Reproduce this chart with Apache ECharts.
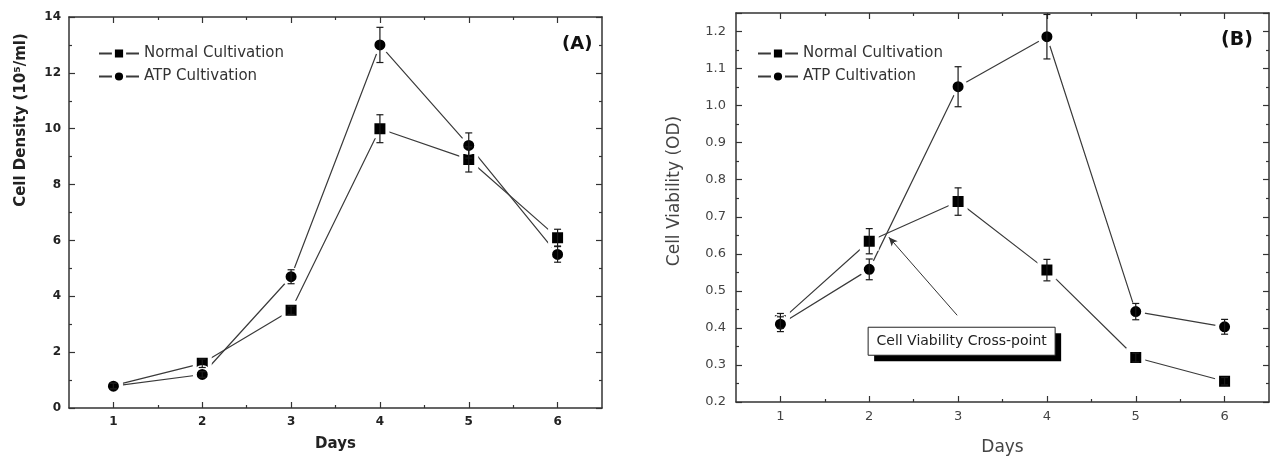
<!DOCTYPE html>
<html>
<head>
<meta charset="utf-8">
<script src="https://cdn.jsdelivr.net/npm/echarts@6/dist/echarts.min.js"></script>
<style>
html,body{margin:0;padding:0;background:#fff;}
#chart{width:1285px;height:461px;}
</style>
</head>
<body>
<div id="chart"></div>
<script>
// ---- data ----
const days = [1, 2, 3, 4, 5, 6];
const minorDays = [1.5, 2.5, 3.5, 4.5, 5.5];
const seriesNames = ['Normal Cultivation', 'ATP Cultivation'];

const densityNormal = [0.8, 1.6, 3.5, 10.0, 8.9, 6.1];
const densityNormalErr = [0.1, 0.15, 0.15, 0.5, 0.45, 0.3];
const densityATP = [0.78, 1.2, 4.7, 13.0, 9.4, 5.5];
const densityATPErr = [0.1, 0.1, 0.25, 0.63, 0.45, 0.28];

const viabilityNormal = [0.419, 0.634, 0.741, 0.556, 0.32, 0.256];
const viabilityNormalErr = [0.02, 0.034, 0.037, 0.029, 0.012, 0.01];
const viabilityATP = [0.41, 0.558, 1.051, 1.186, 0.444, 0.403];
const viabilityATPErr = [0.02, 0.028, 0.054, 0.06, 0.022, 0.02];

const annotationText = 'Cell Viability Cross-point';
const arrowTip = [2.22, 0.645];
const arrowTail = [2.99, 0.434];
const boxCenter = [3.04, 0.364];

// ---- helpers ----
const FONT = 'DejaVu Sans';
const AX = '#333';

function xAxesFor(gridIndex, label) {
  const base = {type: 'value', gridIndex, min: 0.5, max: 6.5, splitLine: {show: false}};
  return [
    Object.assign({}, base, {
      position: 'bottom',
      axisLine: {show: true, onZero: false, lineStyle: {color: AX, width: 1.5}},
      axisTick: {show: true, inside: true, length: 6, customValues: days, lineStyle: {color: AX, width: 1.2}},
      axisLabel: Object.assign({show: true, customValues: days, margin: 8, fontFamily: FONT}, label.tick),
      name: 'Days', nameLocation: 'middle', nameGap: label.nameGap,
      nameTextStyle: Object.assign({fontFamily: FONT}, label.name)
    }),
    Object.assign({}, base, {
      position: 'bottom',
      axisLine: {show: false, onZero: false},
      axisTick: {show: true, inside: true, length: 3, customValues: minorDays, lineStyle: {color: AX, width: 1.2}},
      axisLabel: {show: false}
    }),
    Object.assign({}, base, {
      position: 'top',
      axisLine: {show: true, onZero: false, lineStyle: {color: AX, width: 1.5}},
      axisTick: {show: true, inside: true, length: 6, customValues: days, lineStyle: {color: AX, width: 1.2}},
      axisLabel: {show: false}
    }),
    Object.assign({}, base, {
      position: 'top',
      axisLine: {show: false, onZero: false},
      axisTick: {show: true, inside: true, length: 3, customValues: minorDays, lineStyle: {color: AX, width: 1.2}},
      axisLabel: {show: false}
    })
  ];
}

function yAxesFor(gridIndex, min, max, interval, label) {
  const base = {
    type: 'value', gridIndex, min, max, interval,
    splitLine: {show: false},
    axisLine: {show: true, onZero: false, lineStyle: {color: AX, width: 1.5}},
    axisTick: {show: true, inside: true, length: 6, lineStyle: {color: AX, width: 1.2}},
    minorTick: {show: true, splitNumber: 2, length: 3, lineStyle: {color: AX, width: 1.2}}
  };
  return [
    Object.assign({}, base, {
      position: 'left',
      axisLabel: Object.assign({show: true, margin: label.margin, fontFamily: FONT, showMaxLabel: label.showMax,
        formatter: label.formatter}, label.tick)
    }),
    Object.assign({}, base, {position: 'right', axisLabel: {show: false}})
  ];
}

function errSeries(name, xIdx, yIdx, vals, errs) {
  return {
    type: 'custom', name, xAxisIndex: xIdx, yAxisIndex: yIdx, z: 5, silent: true,
    encode: {x: 0, y: [1, 2]},
    data: days.map((d, i) => [d, vals[i] - errs[i], vals[i] + errs[i]]),
    renderItem(params, api) {
      const x = api.value(0);
      const lo = api.coord([x, api.value(1)]);
      const hi = api.coord([x, api.value(2)]);
      const w = 3.5;
      const st = {stroke: '#1a1a1a', lineWidth: 1.2};
      return {type: 'group', children: [
        {type: 'line', shape: {x1: lo[0], y1: lo[1], x2: hi[0], y2: hi[1]}, style: st},
        {type: 'line', shape: {x1: lo[0] - w, y1: lo[1], x2: lo[0] + w, y2: lo[1]}, style: st},
        {type: 'line', shape: {x1: hi[0] - w, y1: hi[1], x2: hi[0] + w, y2: hi[1]}, style: st}
      ]};
    }
  };
}

function lineSeries(name, xIdx, yIdx, vals, symbol, size, extra) {
  return Object.assign({
    type: 'line', name, xAxisIndex: xIdx, yAxisIndex: yIdx, z: 3,
    data: days.map((d, i) => [d, vals[i]]),
    symbol, symbolSize: size, showSymbol: true,
    lineStyle: {color: '#3a3a3a', width: 1.2},
    itemStyle: {color: '#000', borderColor: '#fff', borderWidth: 4},
    emphasis: {disabled: true}
  }, extra || {});
}

const chart = echarts.init(document.getElementById('chart'), null, {renderer: 'canvas'});

const leftTick = {fontSize: 12, fontWeight: 'bold', color: '#222'};
const rightTick = {fontSize: 13, color: '#444'};

const xAxes = [].concat(
  xAxesFor(0, {tick: leftTick, nameGap: 29, name: {fontSize: 15, fontWeight: 'bold', color: '#222'}}),
  xAxesFor(1, {tick: rightTick, nameGap: 37, name: {fontSize: 17, color: '#444'}})
);
const yAxes = [].concat(
  yAxesFor(0, 0, 14, 2, {tick: leftTick, margin: 8, showMax: true, formatter: v => String(v)}),
  yAxesFor(1, 0.2, 1.25, 0.1, {tick: rightTick, margin: 10, showMax: false, formatter: v => v.toFixed(1)})
);

const legendBase = {
  orient: 'vertical', itemWidth: 40, itemHeight: 14, itemGap: 8,
  textStyle: {fontFamily: FONT, fontSize: 15, color: '#333'},
  itemStyle: {borderColor: '#fff', borderWidth: 3},
  padding: 0, selectedMode: false, data: seriesNames
};

const option = {
  animation: false,
  backgroundColor: '#fff',
  grid: [
    {left: 69, right: 683, top: 17, bottom: 53},
    {left: 736, right: 16, top: 13, bottom: 57}
  ],
  title: [
    {text: '(A)', left: 562, top: 35, padding: 0, textStyle: {fontFamily: FONT, fontSize: 18, fontWeight: 'bold', color: '#111'}},
    {text: '(B)', left: 1221, top: 31, padding: 0, textStyle: {fontFamily: FONT, fontSize: 19, fontWeight: 'bold', color: '#111'}}
  ],
  legend: [
    Object.assign({}, legendBase, {left: 98, top: 46}),
    Object.assign({}, legendBase, {left: 757, top: 46})
  ],
  xAxis: xAxes,
  yAxis: yAxes,
  series: [
    lineSeries(seriesNames[0], 0, 0, densityNormal, 'rect', 15),
    lineSeries(seriesNames[1], 0, 0, densityATP, 'circle', 15),
    errSeries('errA1', 0, 0, densityNormal, densityNormalErr),
    errSeries('errA2', 0, 0, densityATP, densityATPErr),
    lineSeries(seriesNames[0], 4, 2, viabilityNormal, 'rect', 15),
    lineSeries(seriesNames[1], 4, 2, viabilityATP, 'circle', 15, {
      markLine: {
        silent: true, symbol: ['arrow', 'none'], symbolSize: [6, 9],
        lineStyle: {color: '#333', width: 1, type: 'solid'},
        label: {show: false}, emphasis: {disabled: true},
        data: [[{coord: arrowTip}, {coord: arrowTail}]]
      }
    }),
    errSeries('errB1', 4, 2, viabilityNormal, viabilityNormalErr),
    errSeries('errB2', 4, 2, viabilityATP, viabilityATPErr)
  ]
};
chart.setOption(option);

// axis titles and annotation box (box placed from data coordinates)
const c = chart.convertToPixel({xAxisIndex: 4, yAxisIndex: 2}, boxCenter);
const bw = 187, bh = 28, sh = 6;
chart.setOption({
  graphic: [
    {type: 'text', x: 21, y: 120, rotation: Math.PI / 2,
     style: {text: 'Cell Density (10⁵/ml)', font: 'bold 15px "DejaVu Sans"', fill: '#222', textAlign: 'center', textVerticalAlign: 'middle'}},
    {type: 'text', x: 675, y: 191, rotation: Math.PI / 2,
     style: {text: 'Cell Viability (OD)', font: '17px "DejaVu Sans"', fill: '#444', textAlign: 'center', textVerticalAlign: 'middle'}},
    {type: 'group', x: c[0] - bw / 2, y: c[1] - bh / 2, z: 10, children: [
      {type: 'rect', shape: {x: sh, y: sh, width: bw, height: bh}, style: {fill: '#000'}},
      {type: 'rect', shape: {x: 0, y: 0, width: bw, height: bh}, style: {fill: '#fff', stroke: '#222', lineWidth: 1}},
      {type: 'text', x: bw / 2, y: bh / 2,
       style: {text: annotationText, font: '14px "DejaVu Sans"', fill: '#222', textAlign: 'center', textVerticalAlign: 'middle'}}
    ]}
  ]
});
</script>
</body>
</html>
